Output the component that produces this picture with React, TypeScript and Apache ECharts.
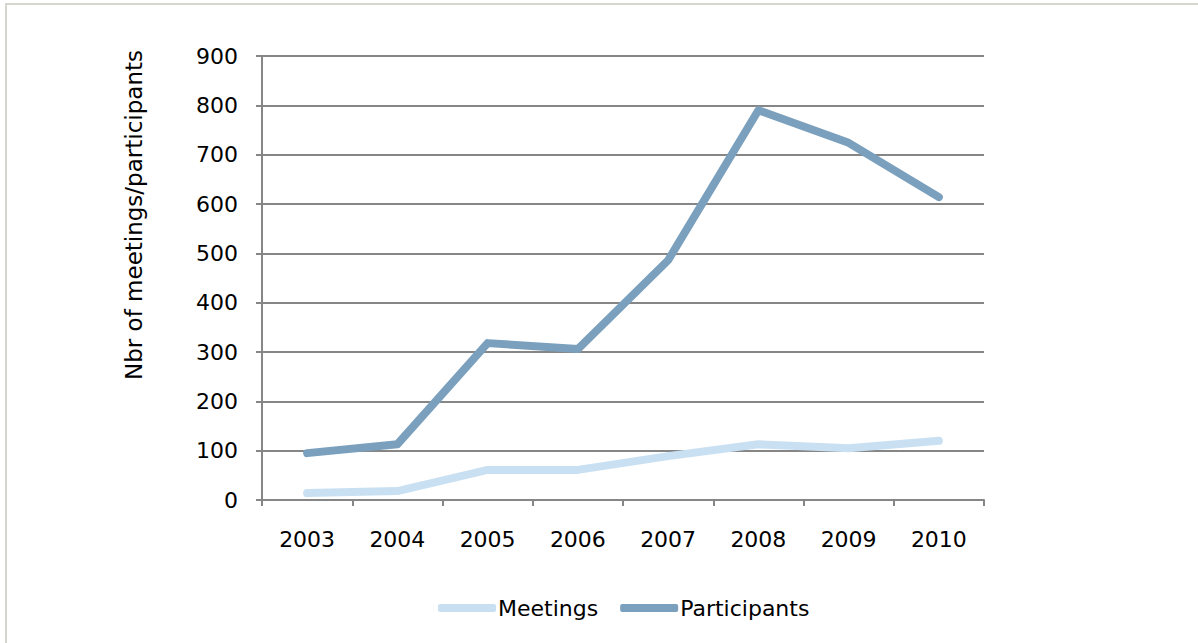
import React, { useEffect, useRef } from "react";
import * as echarts from "echarts";

const years = ["2003", "2004", "2005", "2006", "2007", "2008", "2009", "2010"];
const meetings = [14, 18, 61, 61, 89, 113, 105, 120];
const participants = [95, 113, 318, 306, 486, 790, 724, 614];
const yTitle = "Nbr of meetings/participants";

const FONT = "DejaVu Sans, Verdana, sans-serif";

export default function App() {
  const ref = useRef<HTMLDivElement>(null);
  useEffect(() => {
    if (!ref.current) return;
    const chart = echarts.init(ref.current, undefined, { renderer: "svg" });
    chart.setOption({
      animation: false,
      backgroundColor: "#ffffff",
      graphic: [
        {
          type: "rect",
          shape: { x: 6, y: 4, width: 1200, height: 660 },
          style: { fill: "none", stroke: "#d6d6cf", lineWidth: 2 },
          silent: true,
          z: -1,
        },
        {
          type: "text",
          x: 134,
          y: 215,
          rotation: Math.PI / 2,
          style: {
            text: yTitle,
            fontFamily: FONT,
            fontSize: 23,
            fill: "#000",
            textAlign: "center",
            textVerticalAlign: "middle",
          },
          silent: true,
        },
      ],
      grid: { left: 262, right: 214, top: 56, bottom: 143 },
      legend: {
        bottom: 19,
        left: 433,
        icon: "roundRect",
        itemWidth: 58,
        itemHeight: 8,
        itemGap: 22,
        textStyle: { fontFamily: FONT, fontSize: 22, color: "#000", padding: [0, 0, 0, -3] },
        data: ["Meetings", "Participants"],
      },
      xAxis: {
        type: "category",
        data: years,
        boundaryGap: true,
        axisLine: { lineStyle: { color: "#868686", width: 2 } },
        axisTick: { show: true, length: 6, lineStyle: { color: "#868686", width: 2 } },
        axisLabel: { fontFamily: FONT, fontSize: 22, color: "#000", margin: 28 },
      },
      yAxis: {
        type: "value",
        min: 0,
        max: 900,
        interval: 100,
        axisLine: { show: true, lineStyle: { color: "#868686", width: 2 } },
        axisTick: { show: true, length: 6, lineStyle: { color: "#868686", width: 2 } },
        splitLine: { lineStyle: { color: "#868686", width: 2 } },
        axisLabel: { fontFamily: FONT, fontSize: 22, color: "#000", margin: 24 },
      },
      series: [
        {
          name: "Meetings",
          type: "line",
          data: meetings,
          symbol: "none",
          color: "#c9e0f3",
          lineStyle: { width: 8, color: "#c9e0f3", cap: "round", join: "round" },
        },
        {
          name: "Participants",
          type: "line",
          data: participants,
          symbol: "none",
          color: "#7ba0bd",
          lineStyle: { width: 8, color: "#7ba0bd", cap: "round", join: "round" },
        },
      ],
    });
    return () => chart.dispose();
  }, []);
  return <div ref={ref} style={{ width: 1198, height: 643, position: "absolute", left: 0, top: 0 }} />;
}
